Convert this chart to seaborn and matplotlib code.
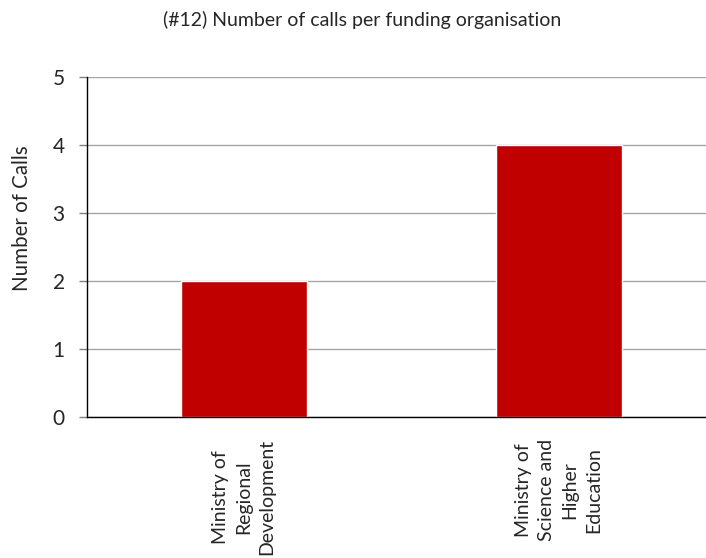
import matplotlib
matplotlib.use("Agg")
import matplotlib.pyplot as plt
import seaborn as sns
import pandas as pd

# data
organisations = ["Ministry of\nRegional\nDevelopment",
                 "Ministry of\nScience and\nHigher\nEducation"]
calls = [2, 4]

sns.set_theme(style="white")
plt.rcParams['font.family'] = ['Lato', 'DejaVu Sans']

df = pd.DataFrame({'org': organisations, 'calls': calls})

fig = plt.figure(figsize=(7.06, 5.58), dpi=100)
ax = fig.add_axes([87/706, 1-417/558, 619/706, 340/558])
sns.barplot(data=df, x='org', y='calls', color='#C00000', saturation=1,
            width=0.4, ax=ax)

ax.set_xlim(-0.497, 1.468)
ax.set_ylim(0, 5)
ax.set_yticks(range(0, 6))
ax.yaxis.grid(True, color='#A6A6A6', linewidth=1)
ax.set_axisbelow(True)
for s in ['top', 'right']:
    ax.spines[s].set_visible(False)
for s in ['left', 'bottom']:
    ax.spines[s].set_color('black')
    ax.spines[s].set_linewidth(1)
ax.tick_params(axis='y', left=True, length=6, width=1, color='#808080',
               labelsize=15, pad=10)
ax.tick_params(axis='x', bottom=False, labelsize=14, pad=10)
for lab in ax.get_xticklabels():
    lab.set_rotation(90)
    lab.set_va('top')
    lab.set_ha('center')
    lab.set_multialignment('center')
    lab.set_linespacing(1.45)
ax.set_xlabel('')
ax.set_ylabel('')

fig.text(0.513, 1-20/558, '(#12) Number of calls per funding organisation',
         ha='center', va='center', fontsize=14)
fig.text(22/706, 1-218/558, 'Number of Calls', rotation=90,
         ha='center', va='center', fontsize=14.8)

fig.savefig('out.png', dpi=100)
